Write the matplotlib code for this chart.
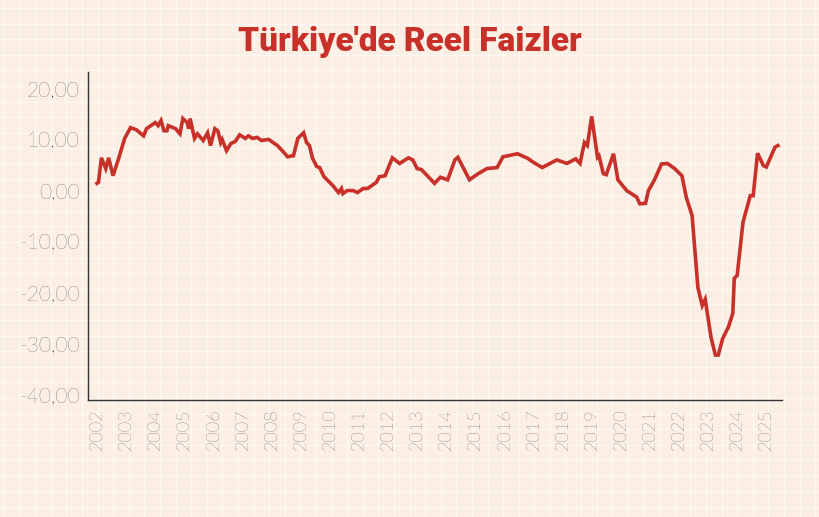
import matplotlib
matplotlib.use("Agg")
import matplotlib.pyplot as plt
import numpy as np

plt.rcParams["font.family"] = ["Lato", "DejaVu Sans"]

# Türkiye reel faiz (okunan değerler)
years = [
    2002.0, 2002.05, 2002.15, 2002.3, 2002.4, 2002.55, 2002.7, 2002.75, 2002.95, 2003.15,
    2003.35, 2003.6, 2003.7, 2004.0, 2004.1, 2004.2, 2004.3, 2004.4, 2004.45, 2004.7,
    2004.85, 2004.95, 2005.1, 2005.15, 2005.2, 2005.35, 2005.45, 2005.65, 2005.8, 2005.9,
    2006.05, 2006.15, 2006.25, 2006.3, 2006.45, 2006.6, 2006.75, 2006.9, 2007.1, 2007.2,
    2007.35, 2007.5, 2007.65, 2007.9, 2008.2, 2008.4, 2008.55, 2008.7, 2008.75, 2008.9,
    2009.1, 2009.2, 2009.3, 2009.4, 2009.55, 2009.65, 2009.8, 2010.1, 2010.3, 2010.4,
    2010.45, 2010.6, 2010.8, 2010.95, 2011.15, 2011.3, 2011.6, 2011.7, 2011.9, 2012.15,
    2012.4, 2012.7, 2012.85, 2013.0, 2013.15, 2013.5, 2013.6, 2013.8, 2014.05, 2014.3,
    2014.4, 2014.8, 2015.1, 2015.4, 2015.75, 2015.95, 2016.45, 2016.8, 2017.0, 2017.3,
    2017.8, 2018.15, 2018.45, 2018.6, 2018.75, 2018.85, 2019.0, 2019.2, 2019.25, 2019.4,
    2019.5, 2019.75, 2019.9, 2020.2, 2020.55, 2020.65, 2020.85, 2020.95, 2021.15, 2021.4,
    2021.6, 2021.85, 2022.1, 2022.25, 2022.45, 2022.65, 2022.8, 2022.9, 2023.1, 2023.25,
    2023.35, 2023.5, 2023.7, 2023.85, 2023.9, 2024.0, 2024.2, 2024.45, 2024.55, 2024.7,
    2024.9, 2025.0, 2025.3, 2025.4,
]
rates = [
    1.4, 1.6, 6.4, 4.3, 6.4, 2.9, 5.5, 6.4, 10.2, 12.3,
    11.9, 10.7, 12.1, 13.3, 12.7, 13.7, 11.7, 11.7, 12.7, 12.1,
    11.1, 14.1, 13.3, 12.1, 14.1, 10.2, 11.1, 9.8, 11.3, 8.8,
    12.1, 11.7, 9.4, 10.0, 7.8, 9.2, 9.6, 10.9, 10.2, 10.7,
    10.2, 10.4, 9.8, 10.0, 8.8, 7.6, 6.6, 6.8, 6.8, 10.2,
    11.3, 9.4, 8.8, 6.4, 4.7, 4.5, 2.7, 1.0, -0.4, 0.4,
    -0.6, 0.0, 0.0, -0.4, 0.4, 0.4, 1.6, 2.7, 2.9, 6.4,
    5.3, 6.4, 6.0, 4.3, 4.1, 2.0, 1.4, 2.6, 2.1, 6.0,
    6.5, 2.1, 3.3, 4.3, 4.5, 6.6, 7.2, 6.3, 5.5, 4.5,
    6.0, 5.3, 6.2, 5.3, 9.4, 8.8, 14.5, 6.5, 6.8, 3.3,
    3.1, 7.2, 2.1, 0.0, -1.3, -2.6, -2.5, 0.0, 2.0, 5.2,
    5.3, 4.3, 2.9, -1.3, -4.9, -19.0, -22.5, -21.3, -28.7, -32.2,
    -32.2, -29.0, -26.7, -24.0, -17.2, -16.6, -6.2, -1.0, -1.0, 7.3,
    4.9, 4.6, 8.5, 8.8,
]
year_ticks = list(range(2002, 2026))
y_ticks = [20, 10, 0, -10, -20, -30, -40]

BG = "#fbeee2"
RED = "#c8302a"

fig = plt.figure(figsize=(8.2, 5.17), dpi=100, facecolor=BG)

# arka plandaki beyaz kareli desen
bg = fig.add_axes([0, 0, 1, 1], zorder=0)
bg.set_xlim(0, 820)
bg.set_ylim(517, 0)
bg.set_facecolor(BG)
for gx in np.arange(4, 820, 15.6):
    bg.axvline(gx, color="white", lw=1.0, alpha=0.6)
for gy in np.arange(8, 517, 15.6):
    bg.axhline(gy, color="white", lw=1.0, alpha=0.6)
bg.axis("off")

ax = fig.add_axes([88 / 820, 1 - 400 / 517, (782 - 88) / 820, (400 - 72) / 517], zorder=1)
ax.patch.set_alpha(0)
ax.plot(years, rates, color=RED, lw=2.6, solid_joinstyle="miter")
ax.set_xlim(2001.69, 2025.54)
ax.set_ylim(-41, 23.2)
ax.set_xticks(year_ticks)
ax.set_xticklabels([str(y) for y in year_ticks], rotation=90, fontsize=13,
                   color="#222222", fontweight="light")
ax.set_yticks(y_ticks)
ax.set_yticklabels([f"{v:.2f}".replace(".", ",") for v in y_ticks], fontsize=15,
                   color="#222222", fontweight="light")
ax.tick_params(length=0, pad=6)
for s in ["top", "right"]:
    ax.spines[s].set_visible(False)
for s in ["left", "bottom"]:
    ax.spines[s].set_color("#333333")
    ax.spines[s].set_linewidth(1.0)

fig.text(0.5, 0.918, "Türkiye'de Reel Faizler", ha="center", va="center",
         fontsize=24, fontweight="heavy", color=RED, family=["Roboto", "DejaVu Sans"])

fig.savefig("out.png", dpi=100, facecolor=BG)
